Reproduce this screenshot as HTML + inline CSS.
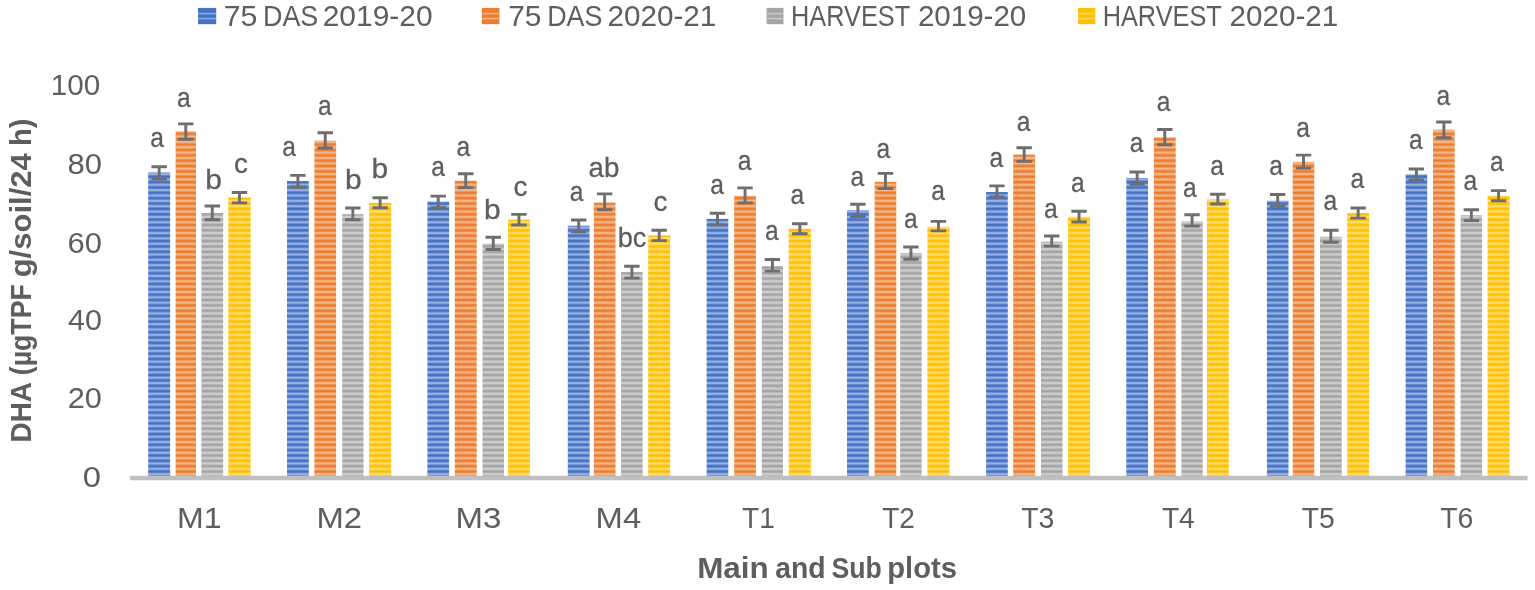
<!DOCTYPE html><html><head><meta charset="utf-8"><style>html,body{margin:0;padding:0;background:#fff;}svg{display:block;filter:blur(0.6px);}</style></head><body>
<svg width="1535" height="590" viewBox="0 0 1535 590">
<defs>
<linearGradient id="g0" x1="0" y1="0" x2="0" y2="1"><stop offset="0" stop-color="#B0C4EC"/><stop offset="0.18" stop-color="#7A9BD8"/><stop offset="0.36" stop-color="#4472C4"/><stop offset="0.64" stop-color="#4472C4"/><stop offset="0.82" stop-color="#7A9BD8"/><stop offset="1" stop-color="#B0C4EC"/></linearGradient>
<pattern id="p0" patternUnits="userSpaceOnUse" x="0" y="2.540" width="10" height="5.36"><rect width="10" height="5.36" fill="url(#g0)"/></pattern>
<linearGradient id="g1" x1="0" y1="0" x2="0" y2="1"><stop offset="0" stop-color="#F7C8A2"/><stop offset="0.18" stop-color="#F2A26A"/><stop offset="0.36" stop-color="#ED7D31"/><stop offset="0.64" stop-color="#ED7D31"/><stop offset="0.82" stop-color="#F2A26A"/><stop offset="1" stop-color="#F7C8A2"/></linearGradient>
<pattern id="p1" patternUnits="userSpaceOnUse" x="0" y="2.540" width="10" height="5.36"><rect width="10" height="5.36" fill="url(#g1)"/></pattern>
<linearGradient id="g2" x1="0" y1="0" x2="0" y2="1"><stop offset="0" stop-color="#DADADA"/><stop offset="0.18" stop-color="#C0C0C0"/><stop offset="0.36" stop-color="#A5A5A5"/><stop offset="0.64" stop-color="#A5A5A5"/><stop offset="0.82" stop-color="#C0C0C0"/><stop offset="1" stop-color="#DADADA"/></linearGradient>
<pattern id="p2" patternUnits="userSpaceOnUse" x="0" y="2.540" width="10" height="5.36"><rect width="10" height="5.36" fill="url(#g2)"/></pattern>
<linearGradient id="g3" x1="0" y1="0" x2="0" y2="1"><stop offset="0" stop-color="#FFE594"/><stop offset="0.18" stop-color="#FFD24A"/><stop offset="0.36" stop-color="#FFC000"/><stop offset="0.64" stop-color="#FFC000"/><stop offset="0.82" stop-color="#FFD24A"/><stop offset="1" stop-color="#FFE594"/></linearGradient>
<pattern id="p3" patternUnits="userSpaceOnUse" x="0" y="2.540" width="10" height="5.36"><rect width="10" height="5.36" fill="url(#g3)"/></pattern>
</defs>
<rect width="1535" height="590" fill="#fff"/>
<g font-family="&quot;Liberation Sans&quot;, &quot;DejaVu Sans&quot;, sans-serif" fill="#5E5E5E">
<rect x="198.0" y="7.9" width="18.2" height="16.3" fill="#4472C4"/>
<rect x="198.0" y="12.8" width="18.2" height="1.6" fill="#8FA8DC"/>
<rect x="198.0" y="17.8" width="18.2" height="1.6" fill="#8FA8DC"/>
<text x="223.69" y="26.20" font-size="30.0" textLength="33.70" lengthAdjust="spacingAndGlyphs">75</text>
<text x="263.06" y="26.20" font-size="30.0" textLength="55.22" lengthAdjust="spacingAndGlyphs">DAS</text>
<text x="322.70" y="26.20" font-size="30.0" textLength="109.89" lengthAdjust="spacingAndGlyphs">2019-20</text>
<rect x="481.8" y="7.9" width="17.6" height="16.3" fill="#ED7D31"/>
<rect x="481.8" y="12.8" width="17.6" height="1.6" fill="#F3B085"/>
<rect x="481.8" y="17.8" width="17.6" height="1.6" fill="#F3B085"/>
<text x="508.20" y="26.20" font-size="30.0" textLength="33.26" lengthAdjust="spacingAndGlyphs">75</text>
<text x="547.17" y="26.20" font-size="30.0" textLength="55.12" lengthAdjust="spacingAndGlyphs">DAS</text>
<text x="607.42" y="26.20" font-size="30.0" textLength="108.92" lengthAdjust="spacingAndGlyphs">2020-21</text>
<rect x="766.6" y="7.9" width="16.9" height="16.3" fill="#A5A5A5"/>
<rect x="766.6" y="12.8" width="16.9" height="1.6" fill="#C8C8C8"/>
<rect x="766.6" y="17.8" width="16.9" height="1.6" fill="#C8C8C8"/>
<text x="790.99" y="26.20" font-size="30.0" textLength="119.16" lengthAdjust="spacingAndGlyphs">HARVEST</text>
<text x="917.92" y="26.20" font-size="30.0" textLength="108.36" lengthAdjust="spacingAndGlyphs">2019-20</text>
<rect x="1078.1" y="7.9" width="17.2" height="16.3" fill="#FFC000"/>
<rect x="1078.1" y="12.8" width="17.2" height="1.6" fill="#FFD862"/>
<rect x="1078.1" y="17.8" width="17.2" height="1.6" fill="#FFD862"/>
<text x="1102.69" y="26.20" font-size="30.0" textLength="119.06" lengthAdjust="spacingAndGlyphs">HARVEST</text>
<text x="1229.52" y="26.20" font-size="30.0" textLength="108.71" lengthAdjust="spacingAndGlyphs">2020-21</text>
<text x="50.79" y="95.03" font-size="30.2" textLength="49.53" lengthAdjust="spacingAndGlyphs">100</text>
<text x="67.52" y="174.10" font-size="30.2" textLength="34.40" lengthAdjust="spacingAndGlyphs">80</text>
<text x="67.57" y="252.68" font-size="30.2" textLength="34.35" lengthAdjust="spacingAndGlyphs">60</text>
<text x="68.04" y="329.88" font-size="30.2" textLength="33.86" lengthAdjust="spacingAndGlyphs">40</text>
<text x="67.78" y="408.48" font-size="30.2" textLength="34.14" lengthAdjust="spacingAndGlyphs">20</text>
<text x="82.74" y="487.48" font-size="30.2" textLength="18.27" lengthAdjust="spacingAndGlyphs">0</text>
<text x="177.04" y="528.40" font-size="30.2" textLength="44.60" lengthAdjust="spacingAndGlyphs">M1</text>
<text x="316.48" y="528.40" font-size="30.2" textLength="45.60" lengthAdjust="spacingAndGlyphs">M2</text>
<text x="455.57" y="528.40" font-size="30.2" textLength="45.82" lengthAdjust="spacingAndGlyphs">M3</text>
<text x="595.59" y="528.40" font-size="30.2" textLength="45.55" lengthAdjust="spacingAndGlyphs">M4</text>
<text x="742.10" y="528.40" font-size="30.2" textLength="32.68" lengthAdjust="spacingAndGlyphs">T1</text>
<text x="882.20" y="528.40" font-size="30.2" textLength="32.68" lengthAdjust="spacingAndGlyphs">T2</text>
<text x="1021.19" y="528.40" font-size="30.2" textLength="33.18" lengthAdjust="spacingAndGlyphs">T3</text>
<text x="1161.90" y="528.40" font-size="30.2" textLength="32.93" lengthAdjust="spacingAndGlyphs">T4</text>
<text x="1301.70" y="528.40" font-size="30.2" textLength="33.07" lengthAdjust="spacingAndGlyphs">T5</text>
<text x="1440.19" y="528.40" font-size="30.2" textLength="33.18" lengthAdjust="spacingAndGlyphs">T6</text>
<text x="697.19" y="578.10" font-size="29.7" font-weight="bold" textLength="71.53" lengthAdjust="spacingAndGlyphs">Main</text>
<text x="775.15" y="578.10" font-size="29.7" font-weight="bold" textLength="50.41" lengthAdjust="spacingAndGlyphs">and</text>
<text x="831.40" y="578.10" font-size="29.7" font-weight="bold" textLength="50.41" lengthAdjust="spacingAndGlyphs">Sub</text>
<text x="887.24" y="578.10" font-size="29.7" font-weight="bold" textLength="69.64" lengthAdjust="spacingAndGlyphs">plots</text>
<text transform="translate(31.40 442.41) rotate(-90)" x="0" y="0" font-size="29.2" font-weight="bold" textLength="60.44" lengthAdjust="spacingAndGlyphs">DHA</text>
<text transform="translate(31.40 375.27) rotate(-90)" x="0" y="0" font-size="29.2" font-weight="bold" textLength="91.12" lengthAdjust="spacingAndGlyphs">(µgTPF</text>
<text transform="translate(31.40 277.33) rotate(-90)" x="0" y="0" font-size="29.2" font-weight="bold" textLength="124.12" lengthAdjust="spacingAndGlyphs">g/soil/24</text>
<text transform="translate(31.40 146.09) rotate(-90)" x="0" y="0" font-size="29.2" font-weight="bold" textLength="27.45" lengthAdjust="spacingAndGlyphs">h)</text>
</g>
<rect x="148.20" y="172.45" width="21.90" height="305.55" fill="url(#p0)"/>
<rect x="175.60" y="131.30" width="20.40" height="346.70" fill="url(#p1)"/>
<rect x="201.40" y="212.95" width="21.80" height="265.05" fill="url(#p2)"/>
<rect x="228.30" y="197.55" width="22.30" height="280.45" fill="url(#p3)"/>
<rect x="287.00" y="181.05" width="21.80" height="296.95" fill="url(#p0)"/>
<rect x="314.40" y="140.68" width="21.70" height="337.32" fill="url(#p1)"/>
<rect x="342.20" y="214.20" width="21.30" height="263.80" fill="url(#p2)"/>
<rect x="369.10" y="202.85" width="22.10" height="275.15" fill="url(#p3)"/>
<rect x="427.40" y="201.55" width="21.70" height="276.45" fill="url(#p0)"/>
<rect x="454.80" y="180.72" width="21.90" height="297.27" fill="url(#p1)"/>
<rect x="482.50" y="243.68" width="21.50" height="234.32" fill="url(#p2)"/>
<rect x="508.00" y="219.60" width="21.90" height="258.40" fill="url(#p3)"/>
<rect x="567.80" y="225.72" width="21.80" height="252.28" fill="url(#p0)"/>
<rect x="593.80" y="202.62" width="21.70" height="275.38" fill="url(#p1)"/>
<rect x="621.10" y="271.85" width="21.60" height="206.15" fill="url(#p2)"/>
<rect x="648.20" y="235.40" width="22.00" height="242.60" fill="url(#p3)"/>
<rect x="706.60" y="218.88" width="21.70" height="259.12" fill="url(#p0)"/>
<rect x="734.20" y="195.85" width="21.70" height="282.15" fill="url(#p1)"/>
<rect x="761.80" y="266.00" width="21.20" height="212.00" fill="url(#p2)"/>
<rect x="788.70" y="228.68" width="22.20" height="249.32" fill="url(#p3)"/>
<rect x="847.00" y="210.22" width="21.80" height="267.77" fill="url(#p0)"/>
<rect x="874.60" y="181.85" width="21.70" height="296.15" fill="url(#p1)"/>
<rect x="900.20" y="252.93" width="21.50" height="225.07" fill="url(#p2)"/>
<rect x="927.40" y="226.73" width="22.10" height="251.27" fill="url(#p3)"/>
<rect x="986.10" y="192.07" width="21.70" height="285.93" fill="url(#p0)"/>
<rect x="1013.20" y="154.57" width="21.90" height="323.43" fill="url(#p1)"/>
<rect x="1041.00" y="241.68" width="21.50" height="236.32" fill="url(#p2)"/>
<rect x="1068.00" y="216.78" width="22.10" height="261.23" fill="url(#p3)"/>
<rect x="1126.30" y="177.95" width="21.70" height="300.05" fill="url(#p0)"/>
<rect x="1153.80" y="137.38" width="21.90" height="340.62" fill="url(#p1)"/>
<rect x="1181.40" y="221.35" width="21.30" height="256.65" fill="url(#p2)"/>
<rect x="1206.90" y="199.28" width="21.90" height="278.73" fill="url(#p3)"/>
<rect x="1266.90" y="200.72" width="21.60" height="277.27" fill="url(#p0)"/>
<rect x="1292.70" y="161.90" width="21.60" height="316.10" fill="url(#p1)"/>
<rect x="1320.00" y="236.70" width="21.70" height="241.30" fill="url(#p2)"/>
<rect x="1347.20" y="213.07" width="21.90" height="264.93" fill="url(#p3)"/>
<rect x="1405.60" y="174.27" width="21.60" height="303.73" fill="url(#p0)"/>
<rect x="1433.00" y="129.72" width="21.70" height="348.27" fill="url(#p1)"/>
<rect x="1460.60" y="215.22" width="21.50" height="262.77" fill="url(#p2)"/>
<rect x="1487.60" y="195.70" width="22.00" height="282.30" fill="url(#p3)"/>
<rect x="130.2" y="475.8" width="1397.3" height="4.5" fill="#BFBFBF"/>
<g stroke="#6E6E6E" stroke-width="2.9" fill="none">
<path d="M151.45 166.80H166.85M159.15 166.80V179.00M151.45 179.00H166.85"/>
<path d="M178.10 123.90H193.50M185.80 123.90V139.30M178.10 139.30H193.50"/>
<path d="M204.60 206.00H220.00M212.30 206.00V219.80M204.60 219.80H220.00"/>
<path d="M231.75 192.50H247.15M239.45 192.50V202.90M231.75 202.90H247.15"/>
<path d="M290.20 175.40H305.60M297.90 175.40V187.00M290.20 187.00H305.60"/>
<path d="M317.55 132.70H332.95M325.25 132.70V148.00M317.55 148.00H332.95"/>
<path d="M345.15 208.00H360.55M352.85 208.00V219.80M345.15 219.80H360.55"/>
<path d="M372.45 197.80H387.85M380.15 197.80V207.80M372.45 207.80H387.85"/>
<path d="M430.55 196.10H445.95M438.25 196.10V207.70M430.55 207.70H445.95"/>
<path d="M458.05 173.70H473.45M465.75 173.70V187.60M458.05 187.60H473.45"/>
<path d="M485.55 237.20H500.95M493.25 237.20V249.50M485.55 249.50H500.95"/>
<path d="M511.25 214.40H526.65M518.95 214.40V225.00M511.25 225.00H526.65"/>
<path d="M571.00 220.00H586.40M578.70 220.00V231.90M571.00 231.90H586.40"/>
<path d="M596.95 193.90H612.35M604.65 193.90V209.80M596.95 209.80H612.35"/>
<path d="M624.20 266.30H639.60M631.90 266.30V278.10M624.20 278.10H639.60"/>
<path d="M651.50 230.20H666.90M659.20 230.20V240.60M651.50 240.60H666.90"/>
<path d="M709.75 213.20H725.15M717.45 213.20V224.90M709.75 224.90H725.15"/>
<path d="M737.35 187.90H752.75M745.05 187.90V202.90M737.35 202.90H752.75"/>
<path d="M764.70 259.50H780.10M772.40 259.50V271.10M764.70 271.10H780.10"/>
<path d="M792.10 223.80H807.50M799.80 223.80V233.70M792.10 233.70H807.50"/>
<path d="M850.20 204.30H865.60M857.90 204.30V216.60M850.20 216.60H865.60"/>
<path d="M877.75 173.40H893.15M885.45 173.40V188.60M877.75 188.60H893.15"/>
<path d="M903.25 247.00H918.65M910.95 247.00V259.30M903.25 259.30H918.65"/>
<path d="M930.75 221.40H946.15M938.45 221.40V230.90M930.75 230.90H946.15"/>
<path d="M989.25 185.90H1004.65M996.95 185.90V197.00M989.25 197.00H1004.65"/>
<path d="M1016.45 147.70H1031.85M1024.15 147.70V161.40M1016.45 161.40H1031.85"/>
<path d="M1044.05 236.00H1059.45M1051.75 236.00V246.10M1044.05 246.10H1059.45"/>
<path d="M1071.35 211.30H1086.75M1079.05 211.30V222.00M1071.35 222.00H1086.75"/>
<path d="M1129.45 172.00H1144.85M1137.15 172.00V184.20M1129.45 184.20H1144.85"/>
<path d="M1157.05 129.50H1172.45M1164.75 129.50V144.80M1157.05 144.80H1172.45"/>
<path d="M1184.35 214.70H1199.75M1192.05 214.70V226.10M1184.35 226.10H1199.75"/>
<path d="M1210.15 194.30H1225.55M1217.85 194.30V204.00M1210.15 204.00H1225.55"/>
<path d="M1270.00 194.50H1285.40M1277.70 194.50V206.20M1270.00 206.20H1285.40"/>
<path d="M1295.80 155.10H1311.20M1303.50 155.10V168.10M1295.80 168.10H1311.20"/>
<path d="M1323.15 230.30H1338.55M1330.85 230.30V242.30M1323.15 242.30H1338.55"/>
<path d="M1350.45 208.00H1365.85M1358.15 208.00V218.10M1350.45 218.10H1365.85"/>
<path d="M1408.70 169.00H1424.10M1416.40 169.00V179.90M1408.70 179.90H1424.10"/>
<path d="M1436.15 122.00H1451.55M1443.85 122.00V137.70M1436.15 137.70H1451.55"/>
<path d="M1463.65 209.70H1479.05M1471.35 209.70V220.60M1463.65 220.60H1479.05"/>
<path d="M1490.90 190.60H1506.30M1498.60 190.60V200.80M1490.90 200.80H1506.30"/>
</g>
<g font-family="&quot;Liberation Sans&quot;, &quot;DejaVu Sans&quot;, sans-serif" fill="#5E5E5E" font-size="28.3" stroke="#5E5E5E" stroke-width="0.3">
<text x="150.21" y="147.45" textLength="13.68" lengthAdjust="spacingAndGlyphs">a</text>
<text x="177.11" y="106.75" textLength="13.68" lengthAdjust="spacingAndGlyphs">a</text>
<text x="205.20" y="188.65" textLength="16.66" lengthAdjust="spacingAndGlyphs">b</text>
<text x="233.97" y="173.05" textLength="13.91" lengthAdjust="spacingAndGlyphs">c</text>
<text x="282.31" y="155.75" textLength="13.68" lengthAdjust="spacingAndGlyphs">a</text>
<text x="318.01" y="115.05" textLength="13.68" lengthAdjust="spacingAndGlyphs">a</text>
<text x="345.00" y="188.75" textLength="16.66" lengthAdjust="spacingAndGlyphs">b</text>
<text x="371.40" y="177.95" textLength="16.66" lengthAdjust="spacingAndGlyphs">b</text>
<text x="431.31" y="176.15" textLength="13.68" lengthAdjust="spacingAndGlyphs">a</text>
<text x="456.61" y="156.15" textLength="13.68" lengthAdjust="spacingAndGlyphs">a</text>
<text x="484.10" y="219.25" textLength="16.66" lengthAdjust="spacingAndGlyphs">b</text>
<text x="513.57" y="195.85" textLength="13.91" lengthAdjust="spacingAndGlyphs">c</text>
<text x="569.81" y="200.65" textLength="13.68" lengthAdjust="spacingAndGlyphs">a</text>
<text x="588.48" y="176.55" textLength="30.83" lengthAdjust="spacingAndGlyphs">ab</text>
<text x="617.67" y="247.05" textLength="28.63" lengthAdjust="spacingAndGlyphs">bc</text>
<text x="653.47" y="211.35" textLength="13.91" lengthAdjust="spacingAndGlyphs">c</text>
<text x="710.21" y="194.05" textLength="13.68" lengthAdjust="spacingAndGlyphs">a</text>
<text x="737.71" y="170.15" textLength="13.68" lengthAdjust="spacingAndGlyphs">a</text>
<text x="765.11" y="239.55" textLength="13.68" lengthAdjust="spacingAndGlyphs">a</text>
<text x="790.61" y="204.05" textLength="13.68" lengthAdjust="spacingAndGlyphs">a</text>
<text x="850.51" y="185.55" textLength="13.68" lengthAdjust="spacingAndGlyphs">a</text>
<text x="876.61" y="157.75" textLength="13.68" lengthAdjust="spacingAndGlyphs">a</text>
<text x="903.91" y="227.75" textLength="13.68" lengthAdjust="spacingAndGlyphs">a</text>
<text x="931.21" y="200.45" textLength="13.68" lengthAdjust="spacingAndGlyphs">a</text>
<text x="989.41" y="166.55" textLength="13.68" lengthAdjust="spacingAndGlyphs">a</text>
<text x="1016.81" y="130.95" textLength="13.68" lengthAdjust="spacingAndGlyphs">a</text>
<text x="1044.01" y="217.85" textLength="13.68" lengthAdjust="spacingAndGlyphs">a</text>
<text x="1071.11" y="191.95" textLength="13.68" lengthAdjust="spacingAndGlyphs">a</text>
<text x="1129.81" y="152.15" textLength="13.68" lengthAdjust="spacingAndGlyphs">a</text>
<text x="1156.81" y="111.45" textLength="13.68" lengthAdjust="spacingAndGlyphs">a</text>
<text x="1182.91" y="196.65" textLength="13.68" lengthAdjust="spacingAndGlyphs">a</text>
<text x="1210.21" y="175.05" textLength="13.68" lengthAdjust="spacingAndGlyphs">a</text>
<text x="1269.21" y="174.65" textLength="13.68" lengthAdjust="spacingAndGlyphs">a</text>
<text x="1296.21" y="137.25" textLength="13.68" lengthAdjust="spacingAndGlyphs">a</text>
<text x="1323.41" y="210.25" textLength="13.68" lengthAdjust="spacingAndGlyphs">a</text>
<text x="1350.51" y="188.15" textLength="13.68" lengthAdjust="spacingAndGlyphs">a</text>
<text x="1409.11" y="148.95" textLength="13.68" lengthAdjust="spacingAndGlyphs">a</text>
<text x="1436.51" y="105.15" textLength="13.68" lengthAdjust="spacingAndGlyphs">a</text>
<text x="1463.41" y="189.55" textLength="13.68" lengthAdjust="spacingAndGlyphs">a</text>
<text x="1490.11" y="171.25" textLength="13.68" lengthAdjust="spacingAndGlyphs">a</text>
</g>
</svg></body></html>
